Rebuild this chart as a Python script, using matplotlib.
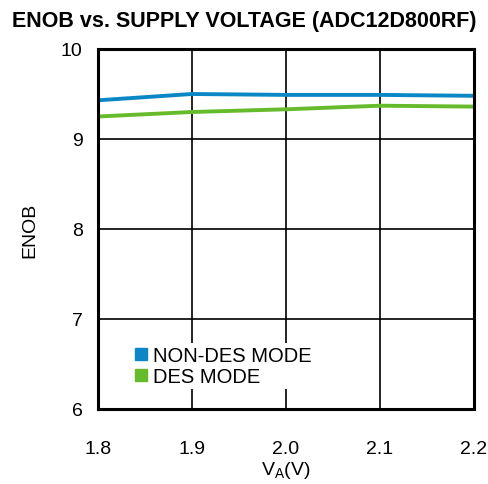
import matplotlib
matplotlib.use('Agg')
from matplotlib import pyplot as plt
from matplotlib.lines import Line2D

supply_v = [1.8, 1.9, 2.0, 2.1, 2.2]
enob_non_des = [9.43, 9.50, 9.49, 9.49, 9.48]
enob_des = [9.25, 9.30, 9.33, 9.37, 9.36]
x_ticks = [1.8, 1.9, 2.0, 2.1, 2.2]
y_ticks = [6, 7, 8, 9, 10]
series_names = ['NON-DES MODE', 'DES MODE']
series_colors = ['#0a87c4', '#66bb2a']

plt.rcParams['font.family'] = ['Liberation Sans', 'DejaVu Sans']

W, H = 489, 485
fig = plt.figure(figsize=(W / 100, H / 100), dpi=100)
ax = fig.add_axes([98 / W, 1 - 410 / H, 376 / W, 360 / H])

ax.plot(supply_v, enob_non_des, color=series_colors[0], lw=2.8)
ax.plot(supply_v, enob_des, color=series_colors[1], lw=2.8)

ax.set_xlim(1.8, 2.2)
ax.set_ylim(6, 10)
ax.set_xticks(x_ticks)
ax.set_xticklabels([f'{v:.1f}' for v in x_ticks])
ax.set_yticks(y_ticks)
ax.grid(True, color='black', lw=1.2)
ax.tick_params(length=0, labelsize=14)
ax.tick_params(axis='x', pad=22)
ax.tick_params(axis='y', pad=11)
for s in ax.spines.values():
    s.set_linewidth(2.2)

ax.set_xlabel('V$_\\mathregular{A}$(V)', fontsize=14, labelpad=2)
ax.set_ylabel('ENOB', fontsize=14, labelpad=16)
fig.text(0.5, 1 - 22 / H, 'ENOB vs. SUPPLY VOLTAGE (ADC12D800RF)', ha='center', va='center',
         fontsize=15.5, fontweight='bold')

handles = [Line2D([], [], marker='s', ls='', color=c, markersize=8) for c in series_colors]
leg = fig.legend(handles, series_names, loc='upper left',
                 bbox_to_anchor=(132 / W, 1 - 344 / H), frameon=True, fontsize=14.5,
                 handlelength=0.6, handletextpad=0.3, labelspacing=0.1, borderpad=0.15,
                 borderaxespad=0)
leg.get_frame().set_facecolor('white')
leg.get_frame().set_edgecolor('none')
leg.get_frame().set_alpha(1)
leg.get_frame().set_boxstyle('square', pad=0)

fig.savefig('out.png', dpi=100)
